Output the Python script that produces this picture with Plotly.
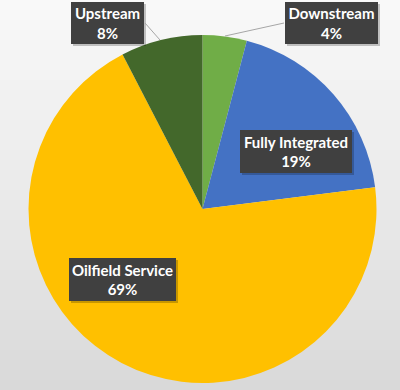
import plotly.graph_objects as go

# ---- data ----
categories = ["Downstream", "Fully Integrated", "Oilfield Service", "Upstream"]
shares = [4.1, 18.9, 69.4, 7.6]
colors = ["#70AD47", "#4472C4", "#FFC000", "#43682B"]

W, H = 400, 390

fig = go.Figure(go.Pie(
    labels=categories, values=shares, sort=False, direction="clockwise",
    rotation=0, marker=dict(colors=colors, line=dict(width=0)),
    textinfo="none", hoverinfo="label+percent", showlegend=False,
    domain=dict(x=[28 / W, 377 / W], y=[1 - 383 / H, 1 - 35 / H]),
))

# background gradient (light top -> gray bottom)
shapes = []
n = 39
for i in range(n):
    t = i / (n - 1)
    g = int(round(249 - 22 * t ** 0.8 - 10 * t ** 2))
    shapes.append(dict(type="rect", xref="paper", yref="paper", layer="below",
                       x0=0, x1=1, y0=1 - (i + 1) / n, y1=1 - i / n,
                       fillcolor=f"rgb({g},{g},{g})", line=dict(width=0)))

# label boxes: (cx, cy, w, h) in px
boxes = {
    "Upstream": (107.5, 23, 73, 42),
    "Downstream": (331.5, 23, 93, 42),
    "Fully Integrated": (296, 151.5, 112, 43),
    "Oilfield Service": (122.5, 279.5, 107, 43),
}
total = sum(shares)
annotations = []
for cat, v in zip(categories, shares):
    cx, cy, bw, bh = boxes[cat]
    # shadow
    shapes.append(dict(type="rect", xref="paper", yref="paper", layer="above",
                       x0=(cx - bw / 2 + 2) / W, x1=(cx + bw / 2 + 2) / W,
                       y0=1 - (cy + bh / 2 + 2) / H, y1=1 - (cy - bh / 2 + 2) / H,
                       fillcolor="rgba(0,0,0,0.22)", line=dict(width=0)))
    annotations.append(dict(
        xref="paper", yref="paper", x=cx / W, y=1 - cy / H,
        xanchor="center", yanchor="middle", showarrow=False,
        text=f"<b>{cat}<br>{round(v / total * 100)}%</b>",
        font=dict(family="Lato", size=15, color="white"),
        bgcolor="#404040", borderpad=0, borderwidth=0,
        width=bw, height=bh, align="center"))

# leader lines
for (x0, y0, x1, y1) in [(145, 23, 160, 40), (225, 36, 284, 23)]:
    shapes.append(dict(type="line", xref="paper", yref="paper", layer="above",
                       x0=x0 / W, y0=1 - y0 / H, x1=x1 / W, y1=1 - y1 / H,
                       line=dict(color="#A6A6A6", width=1)))

fig.update_layout(width=W, height=H, margin=dict(l=0, r=0, t=0, b=0),
                  paper_bgcolor="white", plot_bgcolor="white",
                  shapes=shapes, annotations=annotations)
fig.write_html("out.html", config={"displayModeBar": False},
               post_script="document.body.style.margin='0';document.body.style.overflow='hidden';")
